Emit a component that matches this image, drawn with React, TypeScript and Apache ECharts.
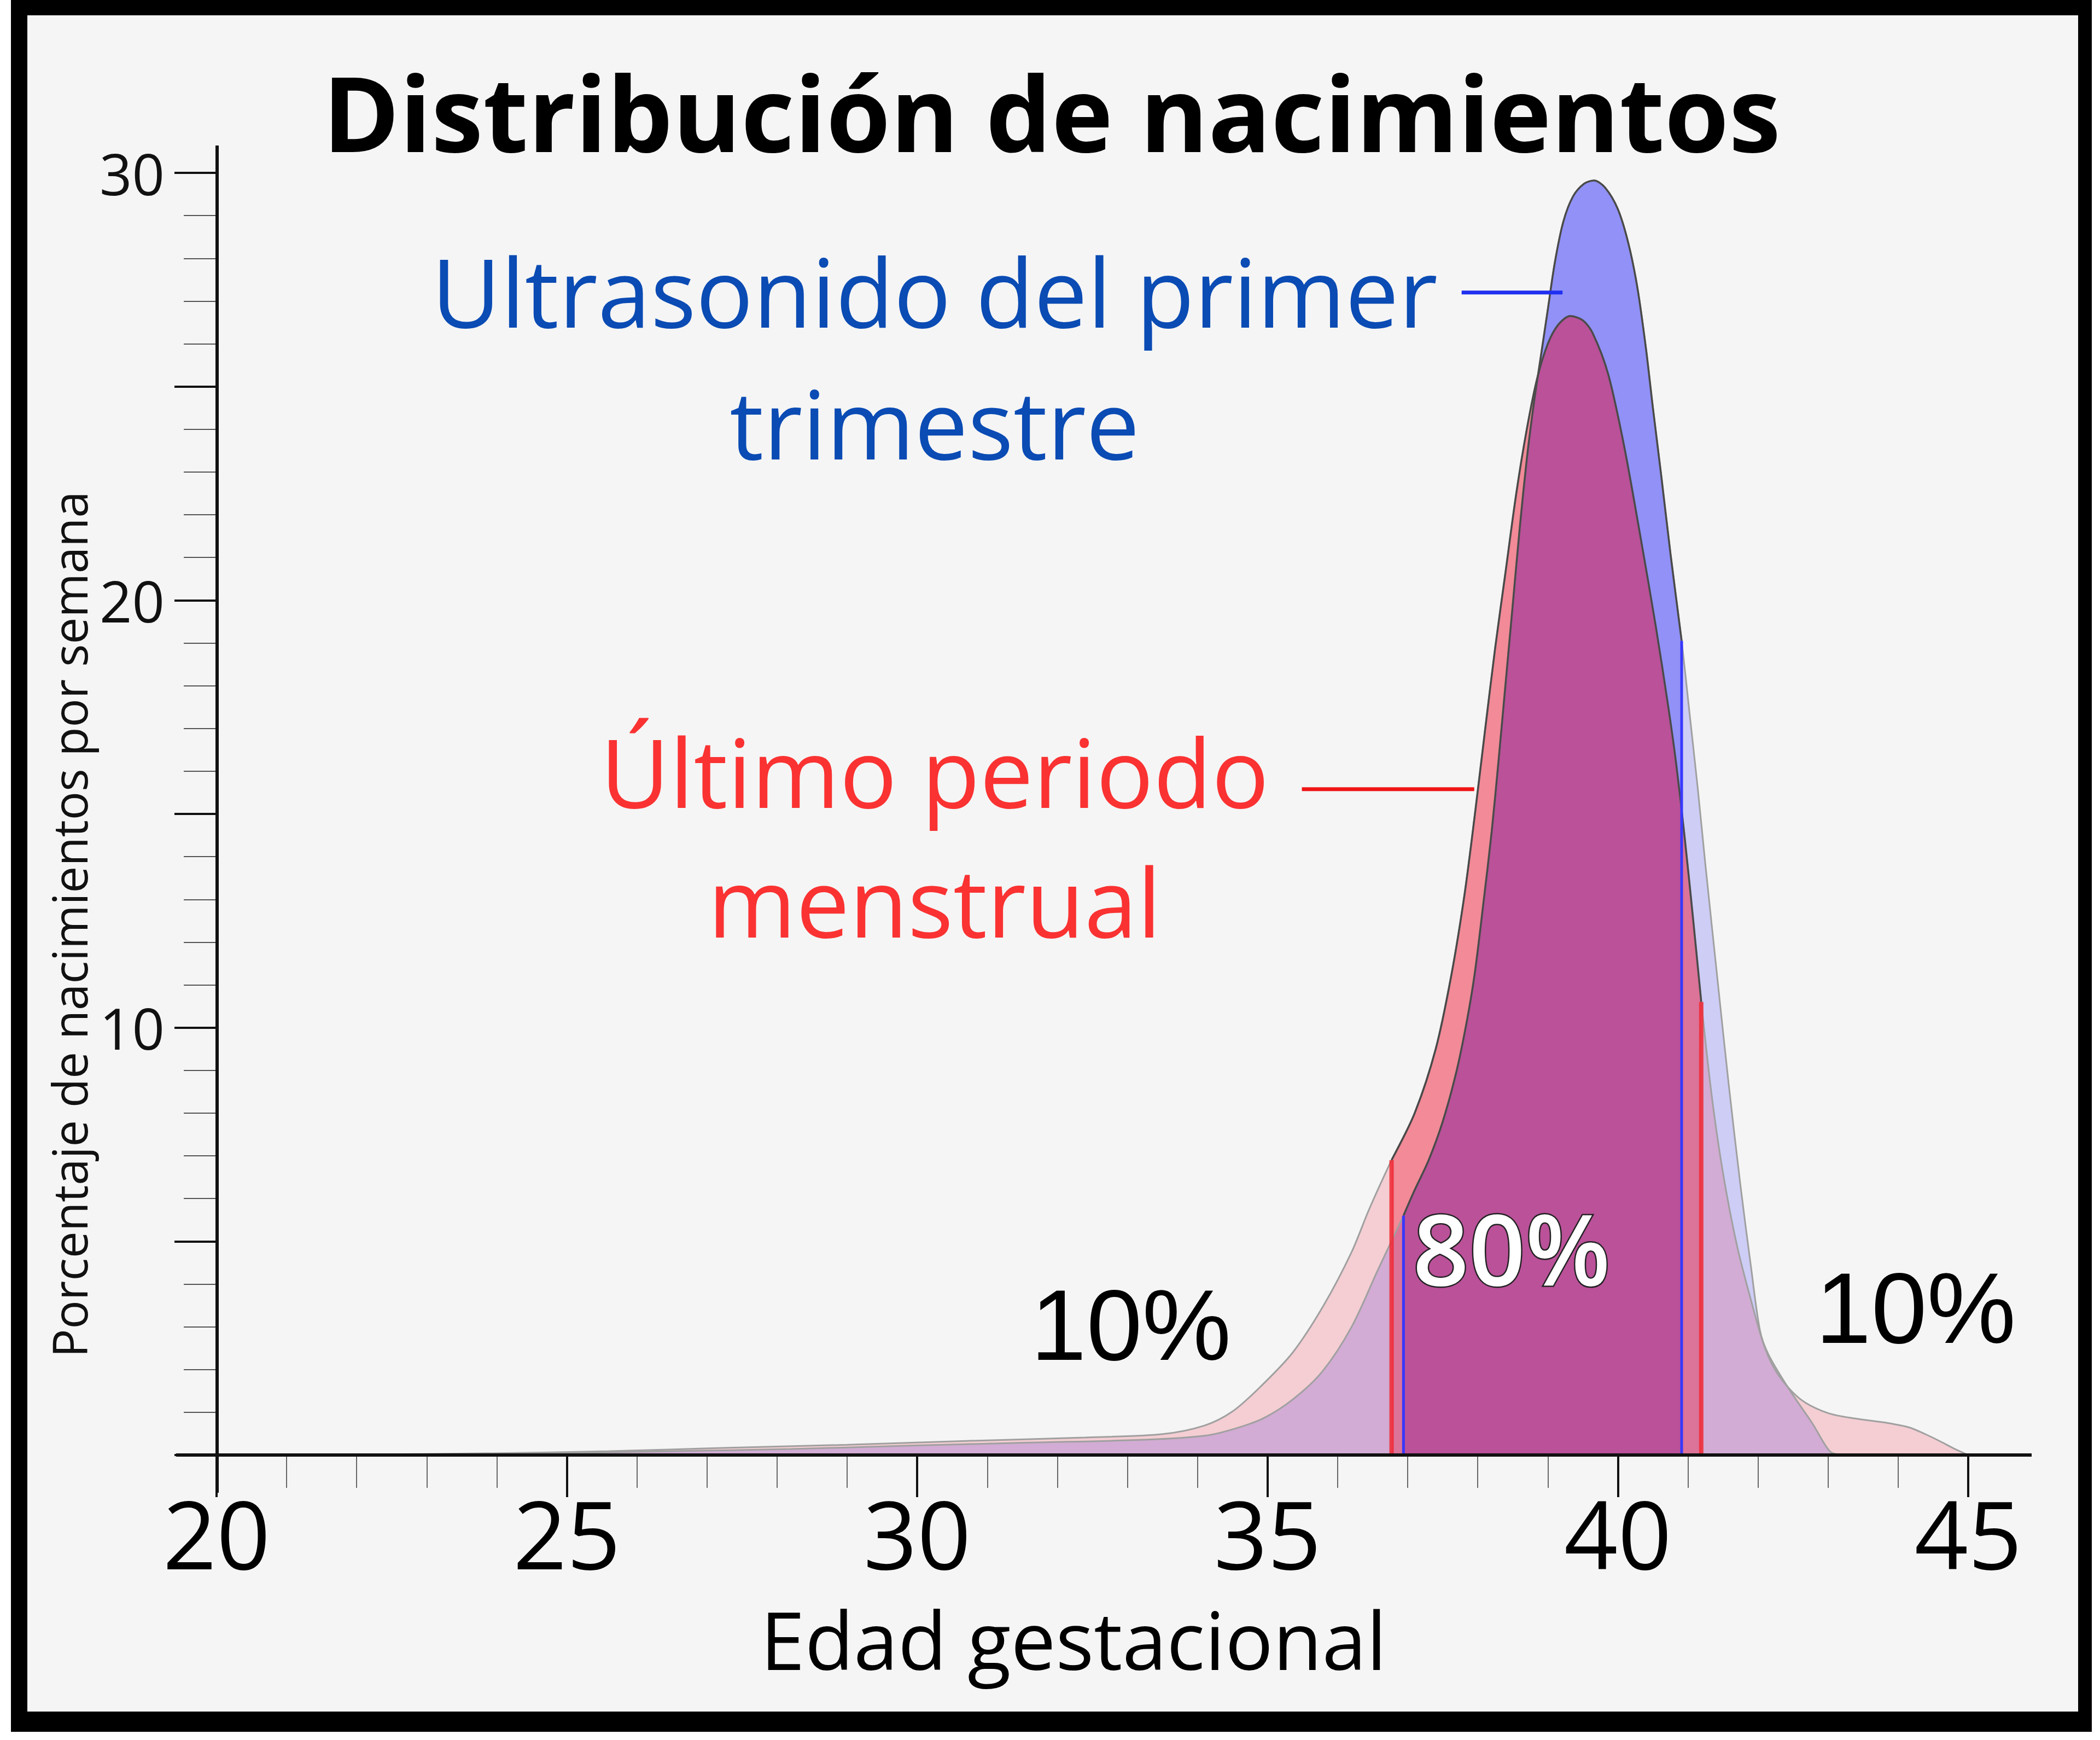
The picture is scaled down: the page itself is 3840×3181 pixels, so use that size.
import React, { useEffect, useRef } from "react";
import * as echarts from "echarts";

// ---------- data ----------
const X_TICK_LABELS = [20, 25, 30, 35, 40, 45];
const Y_TICK_LABELS = [10, 20, 30];

// Gestational age (weeks) vs % of births per week — first-trimester ultrasound dating
const ULTRASOUND: number[][] = [
  [20, 0], [22, 0.01], [24.8, 0.04], [26.5, 0.09], [28.2, 0.14], [29.9, 0.22],
  [31.6, 0.29], [33.3, 0.36], [34.1, 0.45], [34.5, 0.6], [34.94, 0.86],
  [35.36, 1.3], [35.78, 1.95], [36.2, 3.0], [36.58, 4.35], [36.94, 5.6],
  [37.1, 6.2], [37.3, 6.9], [37.5, 7.8], [37.7, 9.0], [37.85, 10.2],
  [37.96, 11.3], [38.08, 12.9], [38.2, 14.6], [38.3, 16.3], [38.4, 18.1],
  [38.5, 19.9], [38.6, 21.7], [38.7, 23.3], [38.8, 24.6], [38.9, 25.7],
  [39.0, 26.8], [39.1, 27.9], [39.22, 28.85], [39.36, 29.45], [39.52, 29.75],
  [39.66, 29.82], [39.82, 29.65], [40.0, 29.15], [40.15, 28.35], [40.28, 27.3],
  [40.4, 25.9], [40.5, 24.5], [40.62, 22.9], [40.75, 21.1], [40.91, 19.05],
  [41.02, 17.4], [41.14, 15.6], [41.25, 13.8], [41.43, 11.0], [41.58, 8.7],
  [41.75, 6.3], [41.9, 4.4], [42.03, 2.9], [42.15, 2.35], [42.44, 1.55],
  [42.78, 0.73], [43.03, 0.08], [43.2, 0],
];

// Last menstrual period dating
const LMP: number[][] = [
  [20, 0], [22, 0.01], [23.9, 0.04], [25.6, 0.09], [27.3, 0.17], [29.0, 0.24],
  [30.7, 0.33], [32.4, 0.41], [33.5, 0.49], [34.1, 0.69], [34.5, 1.02],
  [34.9, 1.6], [35.36, 2.4], [35.8, 3.5], [36.2, 4.75], [36.45, 5.75],
  [36.77, 6.9], [37.1, 8.0], [37.4, 9.5], [37.62, 11.2], [37.81, 13.1],
  [37.96, 15.0], [38.1, 16.9], [38.25, 18.9], [38.4, 20.7], [38.55, 22.5],
  [38.7, 24.0], [38.85, 25.2], [39.0, 26.0], [39.15, 26.45], [39.32, 26.65],
  [39.5, 26.55], [39.64, 26.25], [39.86, 25.3], [40.09, 23.6], [40.31, 21.6],
  [40.54, 19.4], [40.72, 17.5], [40.83, 16.2], [40.95, 14.5], [41.07, 12.6],
  [41.19, 10.6], [41.34, 8.4], [41.5, 6.6], [41.7, 4.9], [41.92, 3.5],
  [42.1, 2.5], [42.3, 1.85], [42.61, 1.3], [43.0, 0.98], [43.4, 0.85],
  [43.85, 0.75], [44.15, 0.65], [44.4, 0.48], [44.6, 0.32], [44.8, 0.15],
  [45.0, 0],
];

// 10th / 90th percentiles (weeks)
const ULTRASOUND_P10 = 36.94;
const ULTRASOUND_P90 = 40.91;
const LMP_P10 = 36.77;
const LMP_P90 = 41.19;

// leader lines from labels to curves (data coords)
const ULTRASOUND_LEADER: number[][] = [[37.77, 27.2], [39.21, 27.2]];
const LMP_LEADER: number[][] = [[35.49, 15.58], [37.95, 15.58]];

const TITLE = "Distribución de nacimientos";
const X_NAME = "Edad gestacional";
const Y_NAME = "Porcentaje de nacimientos por semana";
const ULTRASOUND_LABEL = ["Ultrasonido del primer", "trimestre"];
const LMP_LABEL = ["Último periodo", "menstrual"];
const CENTER_PCT = "80%";
const TAIL_PCT = "10%";

// ---------- helpers ----------
const valueAt = (curve: number[][], x: number) => {
  const p = curve.find((d) => Math.abs(d[0] - x) < 1e-6);
  return p ? p[1] : 0;
};
const between = (curve: number[][], a: number, b: number) =>
  curve.filter((d) => d[0] >= a - 1e-9 && d[0] <= b + 1e-9);

const W = 3840;
const H = 3181;
const FONT = "'Open Sans', 'Noto Sans', sans-serif";

export default function App() {
  const ref = useRef<HTMLDivElement | null>(null);

  useEffect(() => {
    if (!ref.current) return;
    const chart = echarts.init(ref.current, undefined, { renderer: "svg" });

    const curveSeries = (
      data: number[][],
      fill: string,
      line: string,
      width: number
    ) => ({
      type: "line",
      data,
      smooth: 0.3,
      symbol: "none",
      silent: true,
      lineStyle: { color: line, width },
      areaStyle: { color: fill, opacity: 1, origin: "start" },
    });

    const vline = (x: number, curve: number[][], color: string, width: number) => ({
      type: "line",
      data: [
        [x, 0],
        [x, valueAt(curve, x)],
      ],
      symbol: "none",
      silent: true,
      lineStyle: { color, width },
    });

    const txt = (
      text: string,
      x: number,
      y: number,
      fontSize: number,
      fill: string,
      extra: any = {}
    ) => ({
      type: "text",
      x,
      y,
      z: 100,
      silent: true,
      style: {
        text,
        fontSize,
        fontFamily: FONT,
        fill,
        align: "center",
        verticalAlign: "middle",
        ...extra,
      },
    });

    const option: any = {
      animation: false,
      backgroundColor: "#ffffff",
      grid: {
        left: 396,
        right: W - 3599,
        top: 316,
        bottom: H - 2660,
        containLabel: false,
        outerBoundsMode: "none",
      },
      xAxis: {
        type: "value",
        min: 20,
        max: 45,
        interval: 5,
        axisLine: { show: false },
        axisTick: {
          show: true,
          inside: false,
          length: 77,
          lineStyle: { color: "#111", width: 4 },
        },
        minorTick: {
          show: true,
          splitNumber: 5,
          length: 60,
          lineStyle: { color: "#666", width: 2 },
        },
        splitLine: { show: false },
        minorSplitLine: { show: false },
        axisLabel: {
          show: true,
          fontSize: 172,
          lineHeight: 124,
          fontFamily: FONT,
          color: "#000",
          margin: 80,
          formatter: (v: number) => (X_TICK_LABELS.includes(v) ? String(v) : ""),
        },
      },
      yAxis: {
        type: "value",
        min: 0,
        max: 30,
        interval: 5,
        axisLine: { show: false },
        axisTick: {
          show: true,
          inside: false,
          length: 77,
          lineStyle: { color: "#111", width: 4 },
        },
        minorTick: {
          show: true,
          splitNumber: 5,
          length: 60,
          lineStyle: { color: "#555", width: 2 },
        },
        splitLine: { show: false },
        minorSplitLine: { show: false },
        axisLabel: {
          show: true,
          fontSize: 104,
          fontFamily: FONT,
          color: "#111",
          margin: 95,
          formatter: (v: number) => (Y_TICK_LABELS.includes(v) ? String(v) : ""),
        },
      },
      series: [
        curveSeries(ULTRASOUND, "rgba(0,0,255,0.16)", "#a0a0a0", 3),
        curveSeries(
          between(ULTRASOUND, ULTRASOUND_P10, ULTRASOUND_P90),
          "rgba(0,0,255,0.29)",
          "#4a4a4a",
          3.5
        ),
        curveSeries(LMP, "rgba(240,0,30,0.155)", "#a0a0a0", 3),
        curveSeries(
          between(LMP, LMP_P10, LMP_P90),
          "rgba(240,0,30,0.33)",
          "#4a4a4a",
          3.5
        ),
        vline(LMP_P10, LMP, "rgba(240,40,50,0.85)", 8),
        vline(LMP_P90, LMP, "rgba(240,40,50,0.85)", 8),
        vline(ULTRASOUND_P10, ULTRASOUND, "#3838ff", 5),
        vline(ULTRASOUND_P90, ULTRASOUND, "#3838ff", 5),
        {
          type: "line",
          data: ULTRASOUND_LEADER,
          symbol: "none",
          silent: true,
          lineStyle: { color: "#2030f0", width: 7 },
        },
        {
          type: "line",
          data: LMP_LEADER,
          symbol: "none",
          silent: true,
          lineStyle: { color: "#f01414", width: 7 },
        },
      ],
      graphic: [
        // frame
        {
          type: "rect",
          z: -100,
          silent: true,
          shape: { x: 20, y: 0, width: 3805, height: 3166 },
          style: { fill: "#000" },
        },
        {
          type: "rect",
          z: -99,
          silent: true,
          shape: { x: 50, y: 28, width: 3750, height: 3101 },
          style: { fill: "#f5f5f5" },
        },
        // axis lines
        {
          type: "line",
          z: 90,
          silent: true,
          shape: { x1: 397, y1: 266, x2: 397, y2: 2729 },
          style: { stroke: "#111", lineWidth: 6 },
        },
        {
          type: "line",
          z: 90,
          silent: true,
          shape: { x1: 322, y1: 2660, x2: 3715, y2: 2660 },
          style: { stroke: "#111", lineWidth: 6 },
        },
        // title
        txt(TITLE, 1923, 204, 190, "#000", { fontWeight: "bold" }),
        // axis names
        txt(X_NAME, 1963, 2996, 146, "#000", { lineHeight: 120 }),
        {
          type: "text",
          x: 126,
          y: 1690,
          rotation: Math.PI / 2,
          z: 100,
          silent: true,
          style: {
            text: Y_NAME,
            fontSize: 87,
            fontFamily: FONT,
            fill: "#111",
            align: "center",
            verticalAlign: "middle",
          },
        },
        // series labels
        txt(ULTRASOUND_LABEL[0], 1709, 531, 174, "#0a4bb4"),
        txt(ULTRASOUND_LABEL[1], 1709, 772, 174, "#0a4bb4"),
        txt(LMP_LABEL[0], 1709, 1409, 174, "#fa3232"),
        txt(LMP_LABEL[1], 1709, 1646, 174, "#fa3232"),
        // percentages
        txt(CENTER_PCT, 2764, 2280, 180, "#ffffff", {
          stroke: "#222",
          lineWidth: 5,
          fontWeight: 600,
        }),
        txt(TAIL_PCT, 2068, 2422, 183, "#000", {
          fontFamily: "'Liberation Sans', Arial, sans-serif",
        }),
        txt(TAIL_PCT, 3503, 2391, 183, "#000", {
          fontFamily: "'Liberation Sans', Arial, sans-serif",
        }),
      ],
    };

    chart.setOption(option);
    return () => chart.dispose();
  }, []);

  return (
    <div
      style={{ position: "absolute", left: 0, top: 0, width: W, height: H, background: "#fff" }}
    >
      <div ref={ref} style={{ width: W, height: H }} />
    </div>
  );
}
